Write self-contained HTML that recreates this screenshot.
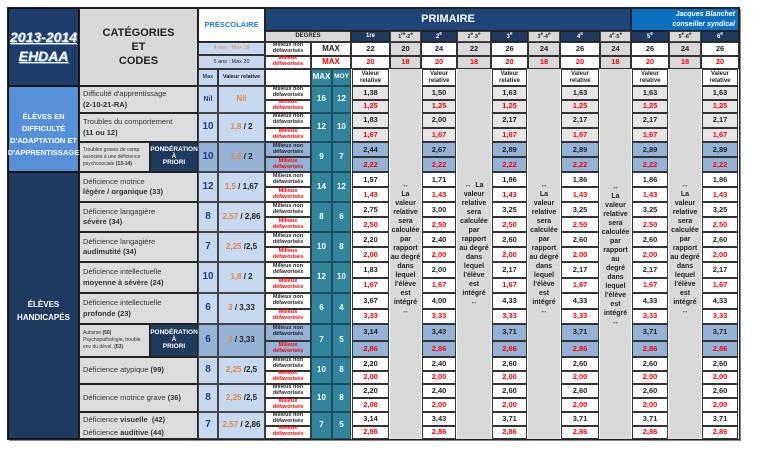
<!DOCTYPE html>
<html><head><meta charset="utf-8"><style>
*{margin:0;padding:0}
body{width:768px;height:466px;background:#fff;position:relative;overflow:hidden;font-family:"Liberation Sans",Arial,sans-serif}
.a{position:absolute;box-sizing:border-box;display:flex;align-items:center;justify-content:center;text-align:center;font-weight:bold;line-height:1.1}
.row{position:absolute;left:0;width:768px}
.row>div{position:absolute;box-sizing:border-box;display:flex;align-items:center;justify-content:center;text-align:center;font-weight:bold;line-height:1.05}
.t{top:0;height:50%}.b{top:50%;height:50%}.f{top:0;height:100%}
.c1{left:352px;width:37px}.c2{left:422px;width:34px}.c3{left:492px;width:35px}.c4{left:561px;width:38px}.c5{left:632px;width:36px}.c6{left:702px;width:36px}
.row>.cb{left:79px;width:119px;background:#dcdcdc;border:1px solid #222;justify-content:flex-start;text-align:left;font-weight:normal;font-size:7.5px;color:#333;padding-left:3px;line-height:1.35}
.cm{left:198px;width:20px;background:#c6d9f1;border:1px solid #444;color:#1f3a93;font-size:10px}
.cv{left:218px;width:47px;background:#c6d9f1;border:1px solid #444;font-size:8px;color:#222}
.cl{left:265px;width:46px;background:#fff;border:1px solid #333;font-size:5.5px;color:#222}
.cl.b{color:#f00}
.cx{left:311px;width:21px;background:#31849b;border:1px solid #1d4f5c;color:#fff;font-size:8px}
.co{left:332px;width:19px;background:#31849b;border:1px solid #1d4f5c;color:#fff;font-size:8px}
.v{background:#fff;border:1px solid #333;font-size:7.5px;color:#222}
.g .v{background:#e6e6e6}
.p .v,.p .cl,.p .cm,.p .cv{background:#95b3d7}
.b.v{color:#f00}
.o{color:#e9883a}
.pd{left:150px;width:48px;background:#1f3a5f;color:#fff;font-size:6.5px;border:1px solid #222}
.gr{position:absolute;background:#d9d9d9;top:69px;height:370px}
.arr{position:absolute;top:172px;height:152px;font-size:7px;font-weight:bold;color:#222;text-align:center;line-height:9px;display:flex;align-items:center;justify-content:center}
</style></head><body>
<div style="position:absolute;left:9px;top:9px;width:732px;height:432px;background:#888"></div>
<div style="position:absolute;left:7px;top:7px;width:733px;height:433px;background:#222"></div>
<div style="position:absolute;left:8px;top:8px;width:731px;height:431px;background:#fff"></div>
<div class="gr" style="left:390px;width:31px"></div>
<div class="gr" style="left:457px;width:34px"></div>
<div class="gr" style="left:528px;width:32px"></div>
<div class="gr" style="left:600px;width:31px"></div>
<div class="gr" style="left:669px;width:32px"></div>

<div class="a" style="left:8px;top:8px;width:71px;height:78px;background:#1f3d6b;border:1px solid #111;color:#fff;font-style:italic;font-size:14px;flex-direction:column;text-shadow:1px 1px 0 #6a8cc0"><span style="text-decoration:underline">2013-2014</span><span style="text-decoration:underline;margin-top:4px">EHDAA</span></div>
<div class="a" style="left:8px;top:86px;width:71px;height:86px;background:#5590d8;border:1px solid #111;color:#fff;font-size:7.5px;line-height:12px;padding-top:12px"><span>ÉLÈVES EN<br>DIFFICULTÉ<br>D'ADAPTATION ET<br>D'APPRENTISSAGE</span></div>
<div class="a" style="left:8px;top:172px;width:71px;height:267px;background:#1f3a5f;border:1px solid #111;color:#fff;font-size:8px;line-height:13px;padding-top:10px"><span>ÉLÈVES<br>HANDICAPÉS</span></div>
<div class="a" style="left:79px;top:8px;width:119px;height:78px;background:#d9d9d9;border:1px solid #222;font-size:11px;color:#222;line-height:14px"><span>CATÉGORIES<br>ET<br>CODES</span></div>

<div class="a" style="left:198px;top:8px;width:67px;height:34px;background:#fff;border:1px solid #222;color:#1f7ad0;font-size:7.5px">PRÉSCOLAIRE</div>
<div class="a" style="left:198px;top:42px;width:67px;height:13px;background:#c6d9f1;border:1px solid #333;color:#e9883a;font-size:5.5px;font-weight:normal">4 ans : Max 18</div>
<div class="a" style="left:198px;top:55px;width:67px;height:14px;background:#c6d9f1;border:1px solid #333;color:#222;font-size:5.5px;font-weight:normal">5 ans : Max 20</div>
<div class="a" style="left:198px;top:69px;width:20px;height:17px;background:#c6d9f1;border:1px solid #333;color:#1f3a93;font-size:5.5px">Max</div>
<div class="a" style="left:218px;top:69px;width:47px;height:17px;background:#c6d9f1;border:1px solid #333;color:#222;font-size:5.5px">Valeur relative</div>

<div class="a" style="left:265px;top:8px;width:366px;height:23px;background:#1f4476;border:1px solid #222;color:#fff;font-size:11px">PRIMAIRE</div>
<div class="a" style="left:631px;top:8px;width:108px;height:23px;background:#0b6fc0;border:1px solid #222;color:#fff;font-size:7px;font-style:italic;justify-content:flex-end;text-align:right;padding-right:3px;line-height:10px"><span>Jacques Blanchet<br>conseiller syndical</span></div>
<div class="row" style="top:31px;height:11px">
<div style="left:265px;width:86px;height:11px;background:#d9d9d9;border:1px solid #333;font-size:6px;color:#222">DEGRÉS</div>
<div style="left:351px;width:39px;height:11px;background:#1f3a5f;color:#fff;font-size:6px;border:1px solid #222">1re</div>
<div style="left:390px;width:31px;height:11px;background:#d9d9d9;color:#222;font-size:5.5px;border:1px solid #444"><span>1<sup>re</sup>-2<sup>e</sup></span></div>
<div style="left:421px;width:36px;height:11px;background:#1f3a5f;color:#fff;font-size:6px;border:1px solid #222"><span>2<sup>e</sup></span></div>
<div style="left:457px;width:34px;height:11px;background:#d9d9d9;color:#222;font-size:5.5px;border:1px solid #444"><span>2<sup>e</sup>-3<sup>e</sup></span></div>
<div style="left:491px;width:37px;height:11px;background:#1f3a5f;color:#fff;font-size:6px;border:1px solid #222"><span>3<sup>e</sup></span></div>
<div style="left:528px;width:32px;height:11px;background:#d9d9d9;color:#222;font-size:5.5px;border:1px solid #444"><span>3<sup>e</sup>-4<sup>e</sup></span></div>
<div style="left:560px;width:40px;height:11px;background:#1f3a5f;color:#fff;font-size:6px;border:1px solid #222"><span>4<sup>e</sup></span></div>
<div style="left:600px;width:31px;height:11px;background:#d9d9d9;color:#222;font-size:5.5px;border:1px solid #444"><span>4<sup>e</sup>-5<sup>e</sup></span></div>
<div style="left:631px;width:38px;height:11px;background:#1f3a5f;color:#fff;font-size:6px;border:1px solid #222"><span>5<sup>e</sup></span></div>
<div style="left:669px;width:32px;height:11px;background:#d9d9d9;color:#222;font-size:5.5px;border:1px solid #444"><span>5<sup>e</sup>-6<sup>e</sup></span></div>
<div style="left:701px;width:38px;height:11px;background:#1f3a5f;color:#fff;font-size:6px;border:1px solid #222"><span>6<sup>e</sup></span></div>
</div>
<div class="row" style="top:42px;height:27px">
<div class="cl t">Milieux non défavorisés</div><div class="cl b">Milieux défavorisés</div>
<div class="t" style="left:311px;width:40px;background:#fff;border:1px solid #333;font-size:8px;color:#222">MAX</div>
<div class="b" style="left:311px;width:40px;background:#fff;border:1px solid #333;font-size:8px;color:#f00">MAX</div>
<div class="v t" style="left:351px;width:39px">22</div><div class="v b" style="left:351px;width:39px">20</div>
<div class="v t" style="left:390px;width:31px;background:#d9d9d9">20</div><div class="v b" style="left:390px;width:31px;background:#d9d9d9">18</div>
<div class="v t" style="left:421px;width:36px">24</div><div class="v b" style="left:421px;width:36px">20</div>
<div class="v t" style="left:457px;width:34px;background:#d9d9d9">22</div><div class="v b" style="left:457px;width:34px;background:#d9d9d9">18</div>
<div class="v t" style="left:491px;width:37px">26</div><div class="v b" style="left:491px;width:37px">20</div>
<div class="v t" style="left:528px;width:32px;background:#d9d9d9">24</div><div class="v b" style="left:528px;width:32px;background:#d9d9d9">18</div>
<div class="v t" style="left:560px;width:40px">26</div><div class="v b" style="left:560px;width:40px">20</div>
<div class="v t" style="left:600px;width:31px;background:#d9d9d9">24</div><div class="v b" style="left:600px;width:31px;background:#d9d9d9">18</div>
<div class="v t" style="left:631px;width:38px">26</div><div class="v b" style="left:631px;width:38px">20</div>
<div class="v t" style="left:669px;width:32px;background:#d9d9d9">24</div><div class="v b" style="left:669px;width:32px;background:#d9d9d9">18</div>
<div class="v t" style="left:701px;width:38px">26</div><div class="v b" style="left:701px;width:38px">20</div>
</div>
<div class="row" style="top:69px;height:17px">
<div class="f" style="left:265px;width:46px;background:#fff;border:1px solid #333"></div>
<div class="cx f">MAX</div><div class="co f" style="font-size:6.5px">MOY</div>
<div class="v f c1" style="font-size:6px">Valeur relative</div><div class="v f c2" style="font-size:6px">Valeur relative</div><div class="v f c3" style="font-size:6px">Valeur relative</div><div class="v f c4" style="font-size:6px">Valeur relative</div><div class="v f c5" style="font-size:6px">Valeur relative</div><div class="v f c6" style="font-size:6px">Valeur relative</div>
</div>

<div class="row g" style="top:86px;height:27px">
<div class="cb f"><span>Difficulté d'apprentissage<br><b>(2-10-21-RA)</b></span></div>
<div class="cm f" style="font-size:7px">Nil</div><div class="cv f o">Nil</div>
<div class="cl t">Milieux non défavorisés</div><div class="cl b">Milieux défavorisés</div>
<div class="cx f">16</div><div class="co f">12</div>
<div class="v t c1">1,38</div><div class="v b c1">1,25</div><div class="v t c2">1,50</div><div class="v b c2">1,25</div><div class="v t c3">1,63</div><div class="v b c3">1,25</div><div class="v t c4">1,63</div><div class="v b c4">1,25</div><div class="v t c5">1,63</div><div class="v b c5">1,25</div><div class="v t c6">1,63</div><div class="v b c6">1,25</div>
</div>
<div class="row g" style="top:113px;height:29px">
<div class="cb f"><span>Troubles du comportement<br><b>(11 ou 12)</b></span></div>
<div class="cm f">10</div><div class="cv f"><span><span class="o">1,8</span> / 2</span></div>
<div class="cl t">Milieux non défavorisés</div><div class="cl b">Milieux défavorisés</div>
<div class="cx f">12</div><div class="co f">10</div>
<div class="v t c1">1,83</div><div class="v b c1">1,67</div><div class="v t c2">2,00</div><div class="v b c2">1,67</div><div class="v t c3">2,17</div><div class="v b c3">1,67</div><div class="v t c4">2,17</div><div class="v b c4">1,67</div><div class="v t c5">2,17</div><div class="v b c5">1,67</div><div class="v t c6">2,17</div><div class="v b c6">1,67</div>
</div>
<div class="row p" style="top:142px;height:30px">
<div class="cb f" style="width:71px;font-size:5px;line-height:7px"><span>Troubles graves de comp. associés à une déficience psychosociale <b>(13-14)</b></span></div>
<div class="pd f"><span>PONDÉRATION<br>À<br>PRIORI</span></div>
<div class="cm f">10</div><div class="cv f"><span><span class="o">1,8</span> / 2</span></div>
<div class="cl t">Milieux non défavorisés</div><div class="cl b">Milieux défavorisés</div>
<div class="cx f">9</div><div class="co f">7</div>
<div class="v t c1">2,44</div><div class="v b c1">2,22</div><div class="v t c2">2,67</div><div class="v b c2">2,22</div><div class="v t c3">2,89</div><div class="v b c3">2,22</div><div class="v t c4">2,89</div><div class="v b c4">2,22</div><div class="v t c5">2,89</div><div class="v b c5">2,22</div><div class="v t c6">2,89</div><div class="v b c6">2,22</div>
</div>
<div class="row" style="top:172px;height:30px">
<div class="cb f"><span>Déficience motrice<br><b>légère / organique (33)</b></span></div>
<div class="cm f">12</div><div class="cv f"><span><span class="o">1,5</span> / 1,67</span></div>
<div class="cl t">Milieux non défavorisés</div><div class="cl b">Milieux défavorisés</div>
<div class="cx f">14</div><div class="co f">12</div>
<div class="v t c1">1,57</div><div class="v b c1">1,43</div><div class="v t c2">1,71</div><div class="v b c2">1,43</div><div class="v t c3">1,86</div><div class="v b c3">1,43</div><div class="v t c4">1,86</div><div class="v b c4">1,43</div><div class="v t c5">1,86</div><div class="v b c5">1,43</div><div class="v t c6">1,86</div><div class="v b c6">1,43</div>
</div>
<div class="row" style="top:202px;height:30px">
<div class="cb f"><span>Déficience langagière<br><b>sévère (34)</b></span></div>
<div class="cm f">8</div><div class="cv f"><span><span class="o">2,57</span> / 2,86</span></div>
<div class="cl t">Milieux non défavorisés</div><div class="cl b">Milieux défavorisés</div>
<div class="cx f">8</div><div class="co f">6</div>
<div class="v t c1">2,75</div><div class="v b c1">2,50</div><div class="v t c2">3,00</div><div class="v b c2">2,50</div><div class="v t c3">3,25</div><div class="v b c3">2,50</div><div class="v t c4">3,25</div><div class="v b c4">2,50</div><div class="v t c5">3,25</div><div class="v b c5">2,50</div><div class="v t c6">3,25</div><div class="v b c6">2,50</div>
</div>
<div class="row" style="top:232px;height:30px">
<div class="cb f"><span>Déficience langagière<br><b>audimutité (34)</b></span></div>
<div class="cm f">7</div><div class="cv f"><span><span class="o">2,25</span> /2,5</span></div>
<div class="cl t">Milieux non défavorisés</div><div class="cl b">Milieux défavorisés</div>
<div class="cx f">10</div><div class="co f">8</div>
<div class="v t c1">2,20</div><div class="v b c1">2,00</div><div class="v t c2">2,40</div><div class="v b c2">2,00</div><div class="v t c3">2,60</div><div class="v b c3">2,00</div><div class="v t c4">2,60</div><div class="v b c4">2,00</div><div class="v t c5">2,60</div><div class="v b c5">2,00</div><div class="v t c6">2,60</div><div class="v b c6">2,00</div>
</div>
<div class="row" style="top:262px;height:31px">
<div class="cb f"><span>Déficience intellectuelle<br><b>moyenne à sévère (24)</b></span></div>
<div class="cm f">10</div><div class="cv f"><span><span class="o">1,8</span> / 2</span></div>
<div class="cl t">Milieux non défavorisés</div><div class="cl b">Milieux défavorisés</div>
<div class="cx f">12</div><div class="co f">10</div>
<div class="v t c1">1,83</div><div class="v b c1">1,67</div><div class="v t c2">2,00</div><div class="v b c2">1,67</div><div class="v t c3">2,17</div><div class="v b c3">1,67</div><div class="v t c4">2,17</div><div class="v b c4">1,67</div><div class="v t c5">2,17</div><div class="v b c5">1,67</div><div class="v t c6">2,17</div><div class="v b c6">1,67</div>
</div>
<div class="row" style="top:293px;height:31px">
<div class="cb f"><span>Déficience intellectuelle<br><b>profonde (23)</b></span></div>
<div class="cm f">6</div><div class="cv f"><span><span class="o">3</span> / 3,33</span></div>
<div class="cl t">Milieux non défavorisés</div><div class="cl b">Milieux défavorisés</div>
<div class="cx f">6</div><div class="co f">4</div>
<div class="v t c1">3,67</div><div class="v b c1">3,33</div><div class="v t c2">4,00</div><div class="v b c2">3,33</div><div class="v t c3">4,33</div><div class="v b c3">3,33</div><div class="v t c4">4,33</div><div class="v b c4">3,33</div><div class="v t c5">4,33</div><div class="v b c5">3,33</div><div class="v t c6">4,33</div><div class="v b c6">3,33</div>
</div>
<div class="row p" style="top:324px;height:33px">
<div class="cb f" style="width:71px;font-size:5px;line-height:7px"><span>Autisme <b>(50)</b><br>Psychopathologie, trouble env du dével. <b>(53)</b></span></div>
<div class="pd f"><span>PONDÉRATION<br>À<br>PRIORI</span></div>
<div class="cm f">6</div><div class="cv f"><span><span class="o">3</span> / 3,33</span></div>
<div class="cl t">Milieux non défavorisés</div><div class="cl b">Milieux défavorisés</div>
<div class="cx f">7</div><div class="co f">5</div>
<div class="v t c1">3,14</div><div class="v b c1">2,86</div><div class="v t c2">3,43</div><div class="v b c2">2,86</div><div class="v t c3">3,71</div><div class="v b c3">2,86</div><div class="v t c4">3,71</div><div class="v b c4">2,86</div><div class="v t c5">3,71</div><div class="v b c5">2,86</div><div class="v t c6">3,71</div><div class="v b c6">2,86</div>
</div>
<div class="row" style="top:357px;height:27px">
<div class="cb f"><span>Déficience atypique <b>(99)</b></span></div>
<div class="cm f">8</div><div class="cv f"><span><span class="o">2,25</span> /2,5</span></div>
<div class="cl t">Milieux non défavorisés</div><div class="cl b">Milieux défavorisés</div>
<div class="cx f">10</div><div class="co f">8</div>
<div class="v t c1">2,20</div><div class="v b c1">2,00</div><div class="v t c2">2,40</div><div class="v b c2">2,00</div><div class="v t c3">2,60</div><div class="v b c3">2,00</div><div class="v t c4">2,60</div><div class="v b c4">2,00</div><div class="v t c5">2,60</div><div class="v b c5">2,00</div><div class="v t c6">2,60</div><div class="v b c6">2,00</div>
</div>
<div class="row" style="top:384px;height:28px">
<div class="cb f"><span>Déficience motrice grave <b>(36)</b></span></div>
<div class="cm f">8</div><div class="cv f"><span><span class="o">2,25</span> /2,5</span></div>
<div class="cl t">Milieux non défavorisés</div><div class="cl b">Milieux défavorisés</div>
<div class="cx f">10</div><div class="co f">8</div>
<div class="v t c1">2,20</div><div class="v b c1">2,00</div><div class="v t c2">2,40</div><div class="v b c2">2,00</div><div class="v t c3">2,60</div><div class="v b c3">2,00</div><div class="v t c4">2,60</div><div class="v b c4">2,00</div><div class="v t c5">2,60</div><div class="v b c5">2,00</div><div class="v t c6">2,60</div><div class="v b c6">2,00</div>
</div>
<div class="row" style="top:412px;height:27px">
<div class="cb f" style="line-height:13px"><span>Déficience <b>visuelle</b>&nbsp; <b>(42)</b><br>Déficience <b>auditive</b> <b>(44)</b></span></div>
<div class="cm f">7</div><div class="cv f"><span><span class="o">2,57</span> / 2,86</span></div>
<div class="cl t">Milieux non défavorisés</div><div class="cl b">Milieux défavorisés</div>
<div class="cx f">7</div><div class="co f">5</div>
<div class="v t c1">3,14</div><div class="v b c1">2,86</div><div class="v t c2">3,43</div><div class="v b c2">2,86</div><div class="v t c3">3,71</div><div class="v b c3">2,86</div><div class="v t c4">3,71</div><div class="v b c4">2,86</div><div class="v t c5">3,71</div><div class="v b c5">2,86</div><div class="v t c6">3,71</div><div class="v b c6">2,86</div>
</div>

<div class="arr" style="left:390px;width:31px"><span>↔<br>La<br>valeur<br>relative<br>sera<br>calculée<br>par<br>rapport<br>au degré<br>dans<br>lequel<br>l'élève<br>est<br>intégré<br>↔</span></div>
<div class="arr" style="left:457px;width:34px;top:168px"><span>↔&nbsp;&nbsp;La<br>valeur<br>relative<br>sera<br>calculée<br>par<br>rapport<br>au degré<br>dans<br>lequel<br>l'élève<br>est<br>intégré<br>↔</span></div>
<div class="arr" style="left:528px;width:32px"><span>↔<br>La<br>valeur<br>relative<br>sera<br>calculée<br>par<br>rapport<br>au degré<br>dans<br>lequel<br>l'élève<br>est<br>intégré<br>↔</span></div>
<div class="arr" style="left:600px;width:31px;top:176px;height:158px"><span>↔<br>La<br>valeur<br>relative<br>sera<br>calculée<br>par<br>rapport<br>au<br>degré<br>dans<br>lequel<br>l'élève<br>est<br>intégré<br>↔</span></div>
<div class="arr" style="left:669px;width:32px"><span>↔<br>La<br>valeur<br>relative<br>sera<br>calculée<br>par<br>rapport<br>au degré<br>dans<br>lequel<br>l'élève<br>est<br>intégré<br>↔</span></div>
</body></html>
